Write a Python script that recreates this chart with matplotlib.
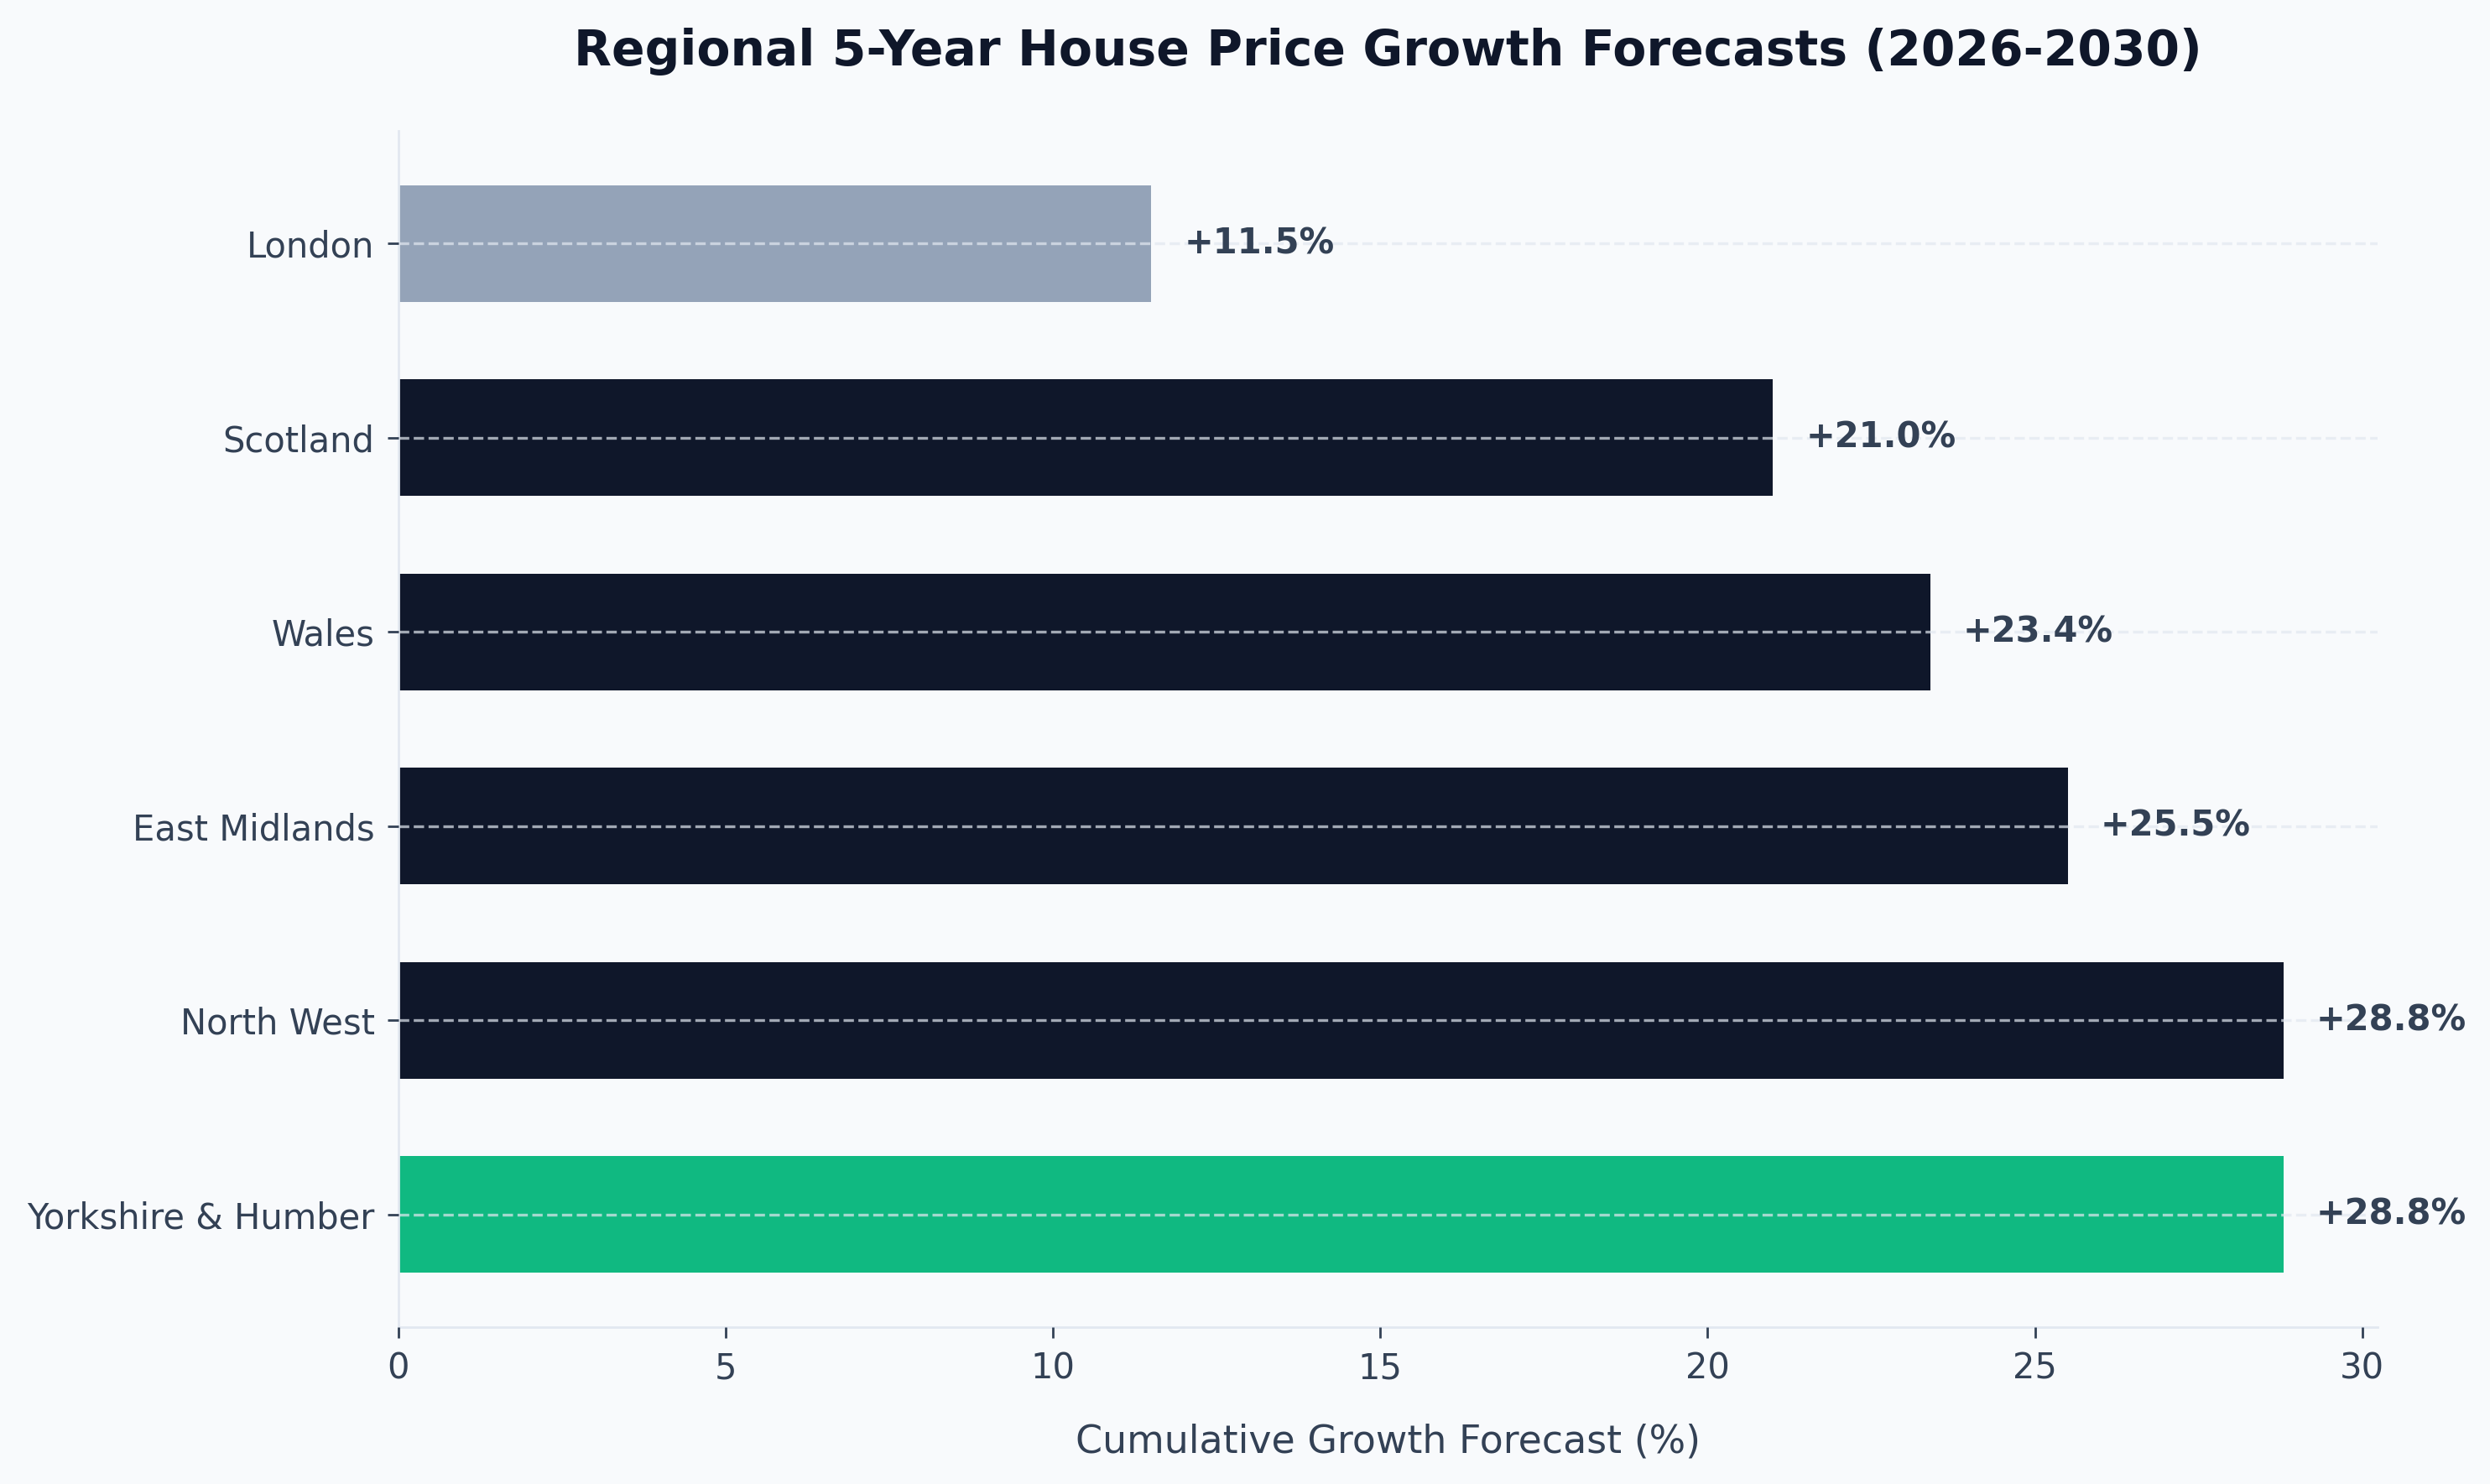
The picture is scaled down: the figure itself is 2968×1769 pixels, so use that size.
import matplotlib
matplotlib.use("Agg")
import matplotlib.pyplot as plt

#### data ####
regions = ['Yorkshire & Humber', 'North West', 'East Midlands', 'Wales', 'Scotland', 'London']
growth = [28.8, 28.8, 25.5, 23.4, 21.0, 11.5]
bar_colors = ['#10b981', '#0f172a', '#0f172a', '#0f172a', '#0f172a', '#94a3b8']

bg = '#f8fafc'
text_col = '#334155'
light = '#e2e8f0'

#### plotting ####
fig = plt.figure(figsize=(14.84, 8.845), dpi=200, facecolor=bg)
ax = fig.add_axes([0.160, 0.1057, 0.795, 0.806])
ax.set_facecolor(bg)

ax.barh(regions, growth, height=0.6, color=bar_colors, zorder=2)

# value labels
for i, v in enumerate(growth):
    ax.text(v + 0.5, i, f'+{v:.1f}%', va='center', ha='left',
            fontsize=15, fontweight='bold', color=text_col)

ax.set_xlim(0, max(growth) * 1.05)
ax.set_xticks([0, 5, 10, 15, 20, 25, 30])

ax.set_xlabel('Cumulative Growth Forecast (%)', fontsize=16.5, color=text_col, labelpad=16)
ax.set_title('Regional 5-Year House Price Growth Forecasts (2026-2030)',
             fontsize=21, fontweight='bold', color='#0f172a', pad=28)

# dashed horizontal grid on top of bars
ax.grid(axis='y', linestyle='--', linewidth=1.2, color=light, alpha=0.7, zorder=3)
ax.set_axisbelow(False)

ax.tick_params(axis='both', labelsize=15, colors=text_col, length=4.7, width=1, pad=5.5)
for lab in ax.get_xticklabels() + ax.get_yticklabels():
    lab.set_color(text_col)

ax.spines['top'].set_visible(False)
ax.spines['right'].set_visible(False)
ax.spines['left'].set_color(light)
ax.spines['bottom'].set_color(light)
ax.spines['left'].set_linewidth(1)
ax.spines['bottom'].set_linewidth(1)

fig.savefig('out.png', dpi=200, facecolor=bg)
